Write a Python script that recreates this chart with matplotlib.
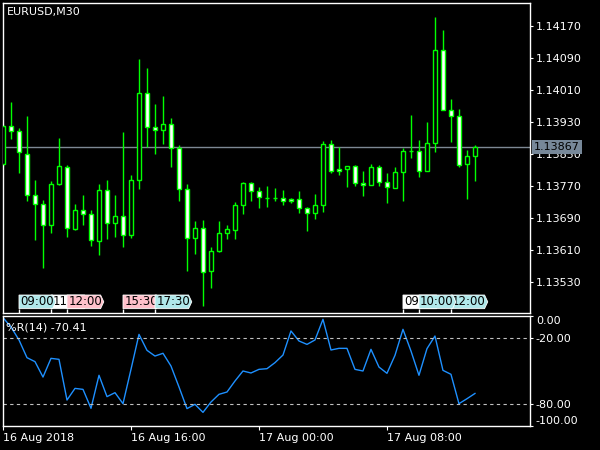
import matplotlib
matplotlib.use("Agg")
import matplotlib.pyplot as plt
from matplotlib.patches import Polygon
from matplotlib.transforms import blended_transform_factory

symbol = "EURUSD,M30"

# 30 minute bars, 16 Aug 2018 08:00 onwards
opens = [1.13825, 1.13919, 1.13907, 1.13849, 1.13747, 1.13724, 1.13672, 1.13774, 1.13817, 1.13663,
         1.13709, 1.13699, 1.13633, 1.13759, 1.13677, 1.13694, 1.13647, 1.13784, 1.14002, 1.13917,
         1.13909, 1.13924, 1.13864, 1.13762, 1.13639, 1.13664, 1.13557, 1.13607, 1.13652, 1.13659,
         1.13722, 1.13777, 1.13757, 1.13739, 1.13739, 1.13739, 1.13737, 1.13737, 1.13714, 1.13702,
         1.13722, 1.13874, 1.13812, 1.13812, 1.13819, 1.13777, 1.13772, 1.13817, 1.13779, 1.13764,
         1.13804, 1.13857, 1.13857, 1.13807, 1.13877, 1.14109, 1.13959, 1.13944, 1.13824, 1.13844]
highs = [1.13925, 1.13979, 1.13914, 1.13945, 1.13785, 1.13735, 1.13783, 1.13889, 1.13822, 1.13725,
         1.13747, 1.13710, 1.13775, 1.13785, 1.13747, 1.13905, 1.13797, 1.14088, 1.14065, 1.13975,
         1.13995, 1.13939, 1.13872, 1.13774, 1.13682, 1.13684, 1.13618, 1.13682, 1.13672, 1.13729,
         1.13779, 1.13779, 1.13767, 1.13770, 1.13764, 1.13760, 1.13739, 1.13757, 1.13717, 1.13750,
         1.13882, 1.13885, 1.13867, 1.13821, 1.13822, 1.13807, 1.13824, 1.13822, 1.13802, 1.13817,
         1.13864, 1.13947, 1.13884, 1.13929, 1.14192, 1.14159, 1.13987, 1.13962, 1.13859, 1.13872]
lows = [1.13820, 1.13887, 1.13803, 1.13733, 1.13636, 1.13566, 1.13653, 1.13772, 1.13643, 1.13659,
        1.13673, 1.13621, 1.13598, 1.13638, 1.13643, 1.13618, 1.13641, 1.13763, 1.13867, 1.13851,
        1.13874, 1.13817, 1.13732, 1.13558, 1.13601, 1.13471, 1.13516, 1.13604, 1.13637, 1.13637,
        1.13699, 1.13732, 1.13714, 1.13718, 1.13733, 1.13723, 1.13728, 1.13703, 1.13658, 1.13688,
        1.13706, 1.13802, 1.13797, 1.13767, 1.13769, 1.13746, 1.13772, 1.13769, 1.13728, 1.13764,
        1.13733, 1.13841, 1.13793, 1.13807, 1.13856, 1.13959, 1.13881, 1.13818, 1.13738, 1.13783]
closes = [1.13920, 1.13907, 1.13854, 1.13747, 1.13724, 1.13672, 1.13774, 1.13819, 1.13664, 1.13709,
          1.13699, 1.13634, 1.13759, 1.13677, 1.13694, 1.13647, 1.13784, 1.14002, 1.13917, 1.13909,
          1.13924, 1.13864, 1.13762, 1.13639, 1.13664, 1.13554, 1.13607, 1.13652, 1.13662, 1.13722,
          1.13777, 1.13757, 1.13742, 1.13739, 1.13739, 1.13732, 1.13732, 1.13714, 1.13702, 1.13722,
          1.13874, 1.13807, 1.13807, 1.13819, 1.13777, 1.13772, 1.13817, 1.13779, 1.13767, 1.13804,
          1.13857, 1.13857, 1.13807, 1.13877, 1.14109, 1.13959, 1.13944, 1.13822, 1.13844, 1.13867]

# Williams %R(14)
wpr = [-1.5, -10.0, -21.8, -37.9, -41.5, -55.5, -38.5, -39.4, -76.4, -65.8,
       -66.7, -83.9, -53.9, -73.3, -69.7, -79.7, -48.5, -16.7, -31.2, -36.4,
       -33.9, -45.5, -64.5, -84.2, -80.3, -87.6, -78.2, -71.2, -69.1, -59.1,
       -50.0, -51.8, -48.5, -47.9, -42.4, -35.5, -13.6, -22.7, -25.8, -21.8,
       -3.0, -30.9, -29.4, -29.4, -48.5, -50.0, -30.3, -46.4, -52.1, -35.8,
       -12.1, -31.8, -53.9, -29.7, -18.2, -49.4, -53.0, -79.7, -75.2, -70.41]

last_price = 1.13867
price_ticks = [1.13530, 1.13610, 1.13690, 1.13770, 1.13850, 1.13930, 1.14010, 1.14090, 1.14170]
wpr_ticks = [0, -20, -80, -100]
wpr_levels = [-20, -80]
time_ticks = [0, 16, 32, 48]
time_labels = ["16 Aug 2018", "16 Aug 16:00", "17 Aug 00:00", "17 Aug 08:00"]

# calendar events (bar index, label, colour), later ones drawn on top
event_bars = [6, 2, 8, 15, 19, 50, 56, 52]
event_labels = ["11:00", "09:00", "12:00", "15:30", "17:30", "09:00", "12:00", "10:00"]
event_colors = ["white", "#b0e8ea", "#ffc0cb", "#ffc0cb", "#b0e8ea", "white", "#b0e8ea", "#b0e8ea"]

fig = plt.figure(figsize=(6, 4.5), dpi=100, facecolor="black")
ax = fig.add_axes([0.005, 0.30444, 0.87833, 0.68889], facecolor="black")
ax2 = fig.add_axes([0.005, 0.05333, 0.87833, 0.24444], facecolor="black", sharex=ax)

for a in (ax, ax2):
    for s in a.spines.values():
        s.set_color("white")
        s.set_linewidth(1)
    a.yaxis.tick_right()
    a.tick_params(colors="white", labelsize=8, length=2.2, width=0.8, pad=2)

x = list(range(len(opens)))
bottoms = [min(o, c) for o, c in zip(opens, closes)]
heights = [abs(c - o) for o, c in zip(opens, closes)]
fills = ["white" if c < o else "black" for o, c in zip(opens, closes)]

ax.vlines(x, lows, highs, color="lime", lw=1, zorder=2)
ax.bar(x, heights, bottom=bottoms, width=0.52, color=fills, edgecolor="lime", lw=1, zorder=3)
ax.axhline(last_price, color="#7d8894", lw=1, zorder=1)

ax.set_xlim(0, 65.88)
ax.set_ylim(1.134525, 1.142275)
ax.set_yticks(price_ticks)
ax.set_yticklabels(["%.5f" % p for p in price_ticks])
ax.tick_params(axis="x", bottom=False, labelbottom=False)

ytr = blended_transform_factory(ax.transAxes, ax.transData)
ax.text(1.008, last_price, "%.5f" % last_price, transform=ytr, ha="left", va="center",
        fontsize=8, color="black", zorder=20, clip_on=False,
        bbox=dict(facecolor="#778899", edgecolor="none", pad=1.6))
ax.text(0.008, 0.97, symbol, transform=ax.transAxes, color="white", fontsize=8, va="center")

# event tags at bottom of price panel
etr = blended_transform_factory(ax.transData, ax.transAxes)
y0, y1 = 0.014, 0.058
ax.vlines(event_bars, 0, y0, transform=etr, color="white", lw=1)
for k, (b, lab, col) in enumerate(zip(event_bars, event_labels, event_colors)):
    w = 4.6
    pts = [(b, y0), (b + w - 0.4, y0), (b + w, (y0 + y1) / 2), (b + w - 0.4, y1), (b, y1)]
    ax.add_patch(Polygon(pts, closed=True, transform=etr, facecolor=col, edgecolor="white",
                         lw=0.6, zorder=10 + 2 * k))
    ax.text(b + 0.15, (y0 + y1) / 2, lab, transform=etr, ha="left", va="center", fontsize=8.5,
            color="black", zorder=11 + 2 * k)

# Williams %R panel
ax2.plot(x, wpr, color="#1e90ff", lw=1)
for lv in wpr_levels:
    ax2.axhline(lv, color="#c0c0c0", lw=0.8, linestyle=(0, (3, 3)))
ax2.set_ylim(-100, 0)
ax2.set_yticks(wpr_ticks)
ax2.set_yticklabels(["%.2f" % v for v in wpr_ticks])
labs = ax2.get_yticklabels()
labs[0].set_va("top")
labs[-1].set_va("bottom")
ax2.text(0.006, 0.9, "%%R(14) %.2f" % wpr[-1], transform=ax2.transAxes, color="white",
         fontsize=8, va="center")

ax2.set_xticks(time_ticks)
ax2.set_xticklabels(time_labels)
ax2.tick_params(axis="x", length=3, pad=2)
for t in ax2.get_xticklabels():
    t.set_ha("left")

fig.savefig("out.png", dpi=100, facecolor="black")
